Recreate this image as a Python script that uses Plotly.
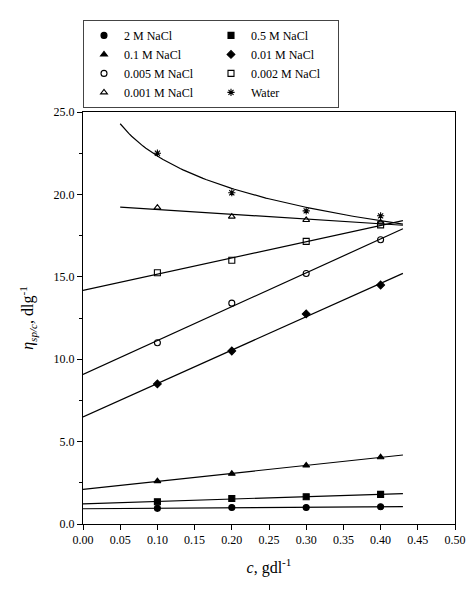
import numpy as np
import plotly.graph_objects as go

c = [0.1, 0.2, 0.3, 0.4]
names = ["2 M NaCl", "0.5 M NaCl", "0.1 M NaCl", "0.01 M NaCl",
         "0.005 M NaCl", "0.002 M NaCl", "0.001 M NaCl", "Water"]
y_2M = [0.95, 1.0, 1.0, 1.05]
y_05M = [1.35, 1.55, 1.65, 1.8]
y_01M = [2.6, 3.05, 3.55, 4.05]
y_001M = [8.5, 10.5, 12.75, 14.5]
y_0005M = [11.0, 13.4, 15.2, 17.25]
y_0002M = [15.25, 16.0, 17.15, 18.15]
y_0001M = [19.2, 18.65, 18.45, 18.3]
y_water = [22.5, 20.1, 19.0, 18.7]

series = [y_2M, y_05M, y_01M, y_001M, y_0005M, y_0002M, y_0001M, y_water]
symbols = ["circle", "square", "triangle-up", "diamond",
           "circle-open", "square-open", "triangle-up-open", "asterisk-open"]
# fitted line ranges (x start)
x_start = [0, 0, 0, 0, 0, 0, 0.05, 0.05]
x_end = 0.43

fig = go.Figure()
font = "Liberation Serif, Times New Roman, serif"
for name, y, sym, xs in zip(names, series, symbols, x_start):
    xx = np.linspace(xs, x_end, 100)
    if name == "Water":
        b, a = np.polyfit(np.log(c), y, 1)
        yy = a + b * np.log(xx)
    else:
        m, k = np.polyfit(c, y, 1)
        yy = k + m * xx
    fig.add_trace(go.Scatter(x=xx, y=yy, mode="lines", showlegend=False,
                             line=dict(color="black", width=1.2)))
    fig.add_trace(go.Scatter(x=c, y=y, mode="markers", name=name,
                             marker=dict(symbol=sym, size=6,
                                         color="black",
                                         line=dict(color="black", width=1.1))))

fig.update_layout(
    width=474, height=594, plot_bgcolor="white", paper_bgcolor="white",
    margin=dict(l=75, r=27, t=69, b=78),
    font=dict(family=font, size=12, color="black"),
    legend=dict(orientation="h", x=0.0, y=1.01, xanchor="left", yanchor="bottom",
                entrywidth=82, bordercolor="#444", borderwidth=1,
                font=dict(size=12), itemwidth=30, tracegroupgap=0),
)
axis = dict(showline=True, linecolor="black", mirror=True, ticks="outside",
            ticklen=5, tickcolor="black", showgrid=False, zeroline=False,
            tickfont=dict(size=12))
fig.update_xaxes(range=[0, 0.5], dtick=0.05, tickformat=".2f",
                 title=dict(text="<i>c</i>, gdl<sup>-1</sup>", font=dict(size=16)), **axis)
fig.update_yaxes(range=[0, 25], dtick=5, tickformat=".1f",
                 minor=dict(dtick=2.5, ticks="outside", ticklen=3, tickcolor="black"),
                 title=dict(text="<i>η<sub>sp/c</sub></i>, dlg<sup>-1</sup>", font=dict(size=16)),
                 **axis)
fig.write_html("out.html")
